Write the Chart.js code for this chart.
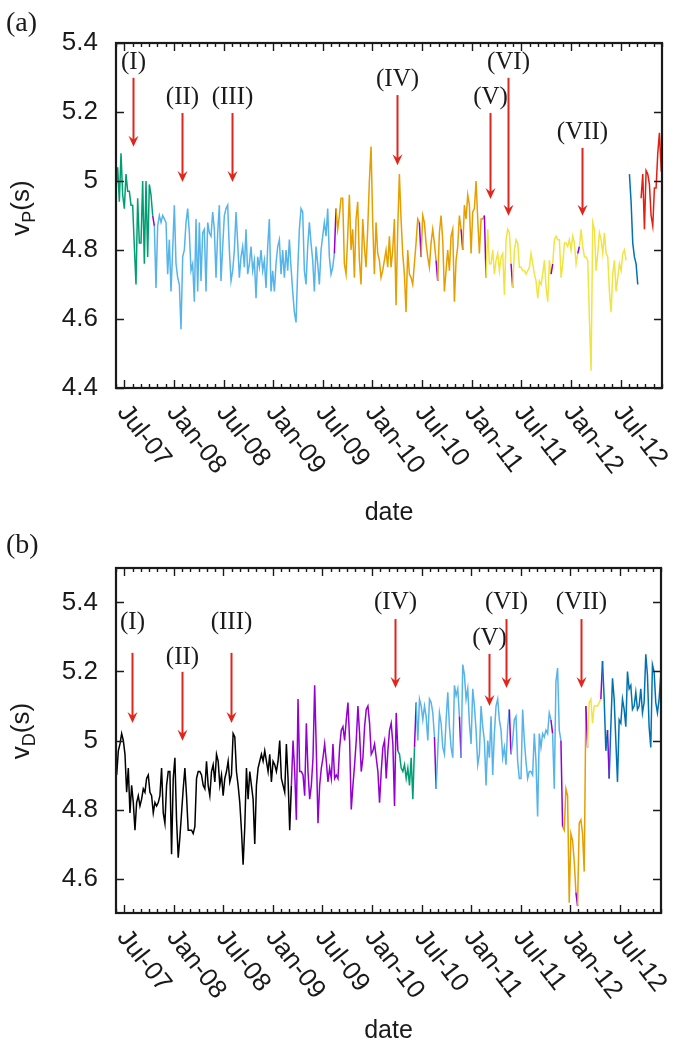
<!DOCTYPE html>
<html>
<head>
<meta charset="utf-8">
<script src="https://cdn.jsdelivr.net/npm/chart.js@4.4.0/dist/chart.umd.min.js"></script>
<style>
html, body { margin: 0; padding: 0; background: #fff; }
canvas { display: block; }
</style>
</head>
<body>
<canvas id="chartA" width="685" height="527"></canvas>
<canvas id="chartB" width="685" height="527"></canvas>
<script>
// months counted from Jan 2007 (Jul-07 = 6), one sample about every 6 days
var STEP = 0.2015;
var startA = 5.0;
var startB = 5.08;

var xTickMonths = [6, 12, 18, 24, 30, 36, 42, 48, 54, 60, 66];
var xTickLabels = ['Jul-07', 'Jan-08', 'Jul-08', 'Jan-09', 'Jul-09', 'Jan-10', 'Jul-10', 'Jan-11', 'Jul-11', 'Jan-12', 'Jul-12'];
var yTicksA = [4.4, 4.6, 4.8, 5.0, 5.2, 5.4];
var yTicksB = [4.6, 4.8, 5.0, 5.2, 5.4];

// panel (a): v_P(s)
var valuesA = [
  4.98, 5.04, 4.94, 5.08, 4.96, 4.92, 5.02, 4.97, 4.97, 4.93, 4.93, 4.81, 4.70, 4.95, 4.82, 4.82, 5.00, 4.76, 5.00, 4.78, 4.99, 4.96, 4.90,
  4.87,
  4.69,
  4.87, 4.90, 4.88, 4.90, 4.89, 4.88, 4.73, 4.83, 4.68, 4.80,
  4.93, 4.76, 4.72, 4.70, 4.57, 4.78, 4.80, 4.88, 4.92, 4.85,
  4.74, 4.76, 4.65, 4.89, 4.68, 4.88, 4.71, 4.85, 4.86, 4.68,
  4.88, 4.85, 4.84, 4.91, 4.86, 4.72, 4.85, 4.93, 4.71, 4.81,
  4.90, 4.92, 4.93, 4.80, 4.71, 4.74, 4.80, 4.91, 4.82, 4.72,
  4.78, 4.81, 4.75, 4.86, 4.73, 4.76, 4.81, 4.74, 4.77, 4.66,
  4.78, 4.75, 4.80, 4.74, 4.77, 4.69, 4.81, 4.89, 4.68, 4.74,
  4.68, 4.76, 4.81, 4.83, 4.73, 4.80, 4.72, 4.80, 4.74, 4.83,
  4.75, 4.68, 4.62, 4.59, 4.74, 4.86, 4.92, 4.91,
  4.74, 4.70, 4.81, 4.88, 4.82, 4.77, 4.68, 4.81, 4.76, 4.70, 4.80, 4.84, 4.88, 4.84, 4.92, 4.78, 4.73, 4.75, 4.79,
  4.92,
  4.86, 4.90, 4.95, 4.95, 4.76, 4.73, 4.84, 4.96, 4.80, 4.86,
  4.72, 4.89, 4.94, 4.77, 4.70, 4.89, 4.81, 4.75, 4.86, 5.00,
  5.10, 4.88, 4.73, 4.88, 4.79, 4.77, 4.72, 4.74, 4.77, 4.80,
  4.75, 4.84, 4.75, 4.80, 4.89, 4.64, 4.86, 5.02, 4.89, 4.79,
  4.73, 4.62, 4.80, 4.73, 4.72, 4.70, 4.76, 4.82, 4.89, 4.88,
  4.78,
  4.90, 4.88, 4.82, 4.78, 4.75, 4.82, 4.86, 4.82, 4.77,
  4.71,
  4.85, 4.90, 4.83, 4.68, 4.74, 4.80, 4.74, 4.84, 4.86, 4.65, 4.77, 4.81, 4.90, 4.86,
  4.80,
  4.93, 4.89, 4.96, 4.93, 4.79, 4.91, 4.92, 5.00, 4.89, 4.79, 4.89, 4.89, 4.90,
  4.72,
  4.86, 4.76, 4.76, 4.80, 4.73, 4.77, 4.79, 4.74, 4.78, 4.79, 4.67, 4.83, 4.86, 4.85, 4.76,
  4.69,
  4.80, 4.83, 4.82, 4.75, 4.75, 4.74, 4.74, 4.73, 4.74, 4.75, 4.79, 4.76, 4.73, 4.71, 4.66, 4.71, 4.70, 4.73, 4.77, 4.69, 4.65, 4.77, 4.73,
  4.76,
  4.83, 4.84, 4.83, 4.83, 4.72, 4.76, 4.82, 4.82, 4.81, 4.83, 4.80, 4.84, 4.82, 4.76, 4.79,
  4.81,
  4.86, 4.81, 4.78, 4.78, 4.77, 4.60, 4.45, 4.88, 4.86, 4.74, 4.79, 4.85, 4.83, 4.79,
  4.85, 4.79, 4.78, 4.68, 4.62, 4.73, 4.77, 4.68, 4.72, 4.76, 4.74, 4.79, 4.80, 4.77,
  null,
  5.02, 4.94, 4.82, 4.78, 4.76, 4.70,
  null,
  4.95, 5.02, 4.86, 5.03, 5.02, 4.99, 4.90, 4.87, 4.98, 4.98, 5.08, 5.14, 5.04, 5.06
];
var runsA = [
  ['g', 23], ['p', 1], ['lb', 108], ['p', 1], ['o', 50], ['p', 1], ['o', 9], ['p', 1], ['o', 14], ['p', 1], ['o', 13], ['p', 1],
  ['y', 15], ['p', 1], ['y', 23], ['p', 1], ['y', 15], ['p', 1], ['y', 28], ['n', 1], ['b', 6], ['n', 1], ['r', 14]
];

// panel (b): v_D(s)
var valuesB = [
  4.90, 4.97, 4.99, 5.02, 5.00, 4.96, 4.85, 4.92, 4.79, 4.87,
  4.82, 4.74, 4.82, 4.84, 4.81, 4.83, 4.86, 4.85, 4.89, 4.90,
  4.85, 4.84, 4.79, 4.82, 4.81, 4.82, 4.84, 4.92, 4.79, 4.76,
  4.87, 4.91, 4.91, 4.67, 4.89, 4.95, 4.77, 4.66, 4.72, 4.79,
  4.86, 4.92, 4.84, 4.74, 4.74, 4.74, 4.73, 4.75, 4.89, 4.91,
  4.91, 4.90, 4.87, 4.86, 4.94, 4.87, 4.84, 4.91, 4.93, 4.88,
  4.96, 4.94, 4.87, 4.90, 4.84, 4.89, 4.91, 4.94, 4.88, 4.90,
  5.02, 5.01, 4.91, 4.87, 4.82, 4.74, 4.64, 4.75, 4.92, 4.83,
  4.91, 4.87, 4.83, 4.70, 4.87, 4.92, 4.94, 4.96, 4.94, 4.97,
  4.94, 4.91, 4.96, 4.88, 4.94, 4.93, 4.91, 4.94, 5.00, 4.89,
  4.87, 4.85, 4.99, 4.89, 4.74, 4.87,
  5.00, 4.91, 4.77, 5.12,
  4.91, 4.91, 4.90, 4.84, 5.05, 4.91, 4.83, 4.87, 4.95, 5.16,
  4.97, 4.76, 4.87, 4.92, 4.95, 4.99, 4.94, 4.88, 4.92, 4.89,
  4.99, 4.89, 4.90, 4.89, 4.98, 5.03, 5.04, 5.00, 5.06, 5.11,
  5.00, 4.80, 4.87, 4.93, 5.00, 5.10, 5.02, 4.91, 4.95, 5.04,
  5.09, 5.10, 5.05, 4.96, 4.97, 4.99, 4.95, 4.91, 4.82, 4.91,
  4.98, 5.00, 4.89, 4.97, 5.03, 5.05, 4.99, 4.81, 5.08, 4.97,
  4.96, 4.92, 4.91, 4.93, 4.89, 4.92, 4.87, 4.95, 4.83, 4.98,
  5.11,
  5.00, 5.12, 5.10, 5.06, 5.10, 5.07, 5.00, 5.12, 5.11, 5.08, 5.01,
  4.86,
  4.97, 5.08, 5.05, 4.98, 4.96, 5.06, 5.14, 5.04, 4.98, 4.95, 5.16, 5.13, 5.15, 5.07,
  4.95,
  5.22, 5.19, 5.12, 5.15, 5.05, 4.99, 5.15, 5.10, 5.03, 4.93, 4.96, 5.10, 5.04, 5.00, 4.87, 5.00, 4.95,
  5.07, 4.90, 5.02, 5.10, 5.12, 5.06, 5.03, 4.95, 4.98, 4.93, 5.04, 5.09,
  4.96,
  5.00, 5.06, 5.07, 4.94, 4.89, 4.89, 5.09, 5.00, 4.94, 4.89, 4.91, 4.91,
  4.90, 5.02, 4.94, 4.78, 5.02, 4.98, 5.02, 5.01, 5.03, 5.02, 5.08, 5.06,
  5.02,
  4.86, 5.17, 5.21, 5.03, 5.00,
  4.75,
  4.74, 4.86, 4.84, 4.53, 4.73, 4.71, 4.65, 4.56,
  4.52,
  4.76, 4.77, 4.73, 4.62, 5.10,
  4.98,
  5.11, 5.12, 5.05, 5.10, 5.10, 5.10, 5.11, 5.12,
  5.23,
  5.12, 4.97, 5.03,
  4.89,
  5.04, 5.18, 5.12, 5.00, 4.88, 5.06, 5.05, 5.12, 5.09, 5.04,
  5.20, 5.15, 5.16, 5.09, 5.10, 5.14, 5.09, 5.10, 5.15, 5.08,
  5.11, 5.25, 5.19, 5.04, 4.98, 5.22, 5.20, 5.11, 5.08, 5.12, 5.19
];
var runsB = [
  ['k', 106], ['p', 64], ['g', 10], ['p', 1], ['lb', 11], ['p', 1], ['lb', 14], ['p', 1], ['lb', 29], ['p', 1], ['lb', 24], ['p', 1],
  ['lb', 5], ['p', 1], ['o', 8], ['p', 1], ['o', 5], ['p', 1], ['y', 8], ['p', 1], ['b', 3], ['p', 1], ['b', 31]
];

// the red arrows and their labels
var arrowNames = ['(I)', '(II)', '(III)', '(IV)', '(V)', '(VI)', '(VII)'];
var arrowMonthsA = [7.05, 12.98, 19.02, 38.97, 50.21, 52.38, 61.33];
var arrowLabelA = [5.345, 5.241, 5.241, 5.293, 5.243, 5.345, 5.142];
var arrowTailA = [5.299, 5.197, 5.197, 5.249, 5.197, 5.299, 5.096];
var arrowTipA = [5.099, 4.997, 4.997, 5.046, 4.948, 4.899, 4.899];
var arrowMonthsB = [6.93, 12.98, 18.90, 38.84, 50.21, 52.26, 61.33];
var arrowLabelB = [5.343, 5.242, 5.343, 5.399, 5.297, 5.399, 5.399];
var arrowTailB = [5.254, 5.199, 5.254, 5.352, 5.251, 5.352, 5.352];
var arrowTipB = [5.051, 4.999, 5.051, 5.152, 5.100, 5.152, 5.152];

var colors = {
  k: '#000000', p: '#9400d3', g: '#009e73', lb: '#56b4e9',
  o: '#e69f00', y: '#f0e442', b: '#0072b2', r: '#e51e10', n: '#000000'
};
var textColor = '#1a1a1a';
var arrowColor = '#e0261c';

function expandRuns(runs) {
  var out = [];
  runs.forEach(function(r) {
    for (var i = 0; i < r[1]; i++) out.push(colors[r[0]]);
  });
  return out;
}

function toPoints(start, values) {
  return values.map(function(v, i) {
    return { x: start + i * STEP, y: v };
  });
}

function drawArrow(ctx, x, yTail, yTip) {
  ctx.strokeStyle = arrowColor;
  ctx.fillStyle = arrowColor;
  ctx.lineWidth = 2;
  ctx.beginPath();
  ctx.moveTo(x, yTail);
  ctx.lineTo(x, yTip - 6);
  ctx.stroke();
  ctx.beginPath();
  ctx.moveTo(x, yTip);
  ctx.lineTo(x - 5, yTip - 11);
  ctx.lineTo(x, yTip - 7);
  ctx.lineTo(x + 5, yTip - 11);
  ctx.closePath();
  ctx.fill();
}

function drawYTitle(ctx, cx, cy, sub) {
  var big = '26px "Liberation Sans", Arial, sans-serif';
  var small = '18px "Liberation Sans", Arial, sans-serif';
  ctx.save();
  ctx.translate(cx, cy);
  ctx.rotate(-Math.PI / 2);
  ctx.fillStyle = textColor;
  ctx.textAlign = 'left';
  ctx.textBaseline = 'alphabetic';
  ctx.font = big;
  var w1 = ctx.measureText('v').width;
  var w3 = ctx.measureText('(s)').width;
  ctx.font = small;
  var w2 = ctx.measureText(sub).width;
  var x = -(w1 + w2 + w3) / 2;
  ctx.font = big;
  ctx.fillText('v', x, 9);
  x += w1;
  ctx.font = small;
  ctx.fillText(sub, x, 15);
  x += w2;
  ctx.font = big;
  ctx.fillText('(s)', x, 9);
  ctx.restore();
}

// frame, ticks, rotated date labels, arrows and titles
var decorPlugin = {
  id: 'decor',
  afterDraw: function(chart, args, opts) {
    var ctx = chart.ctx;
    var a = chart.chartArea;
    var xs = chart.scales.x;
    var ys = chart.scales.y;
    ctx.save();

    ctx.strokeStyle = textColor;
    ctx.lineWidth = 1.4;
    ctx.beginPath();
    for (var m = Math.ceil(xs.min); m <= xs.max; m++) {
      var px = Math.round(xs.getPixelForValue(m)) + 0.5;
      var len = (m % 6 === 0) ? 8 : 4;
      ctx.moveTo(px, a.bottom); ctx.lineTo(px, a.bottom - len);
      ctx.moveTo(px, a.top); ctx.lineTo(px, a.top + len);
    }
    opts.yTicks.forEach(function(v) {
      var py = Math.round(ys.getPixelForValue(v)) + 0.5;
      ctx.moveTo(a.left, py); ctx.lineTo(a.left + 8, py);
      ctx.moveTo(a.right, py); ctx.lineTo(a.right - 8, py);
    });
    ctx.stroke();

    ctx.lineWidth = 2.2;
    ctx.strokeRect(a.left, a.top, a.right - a.left, a.bottom - a.top);

    // date labels, reading down to the right
    ctx.fillStyle = textColor;
    ctx.font = '26px "Liberation Sans", Arial, sans-serif';
    ctx.textAlign = 'left';
    ctx.textBaseline = 'top';
    xTickMonths.forEach(function(m, i) {
      var px = xs.getPixelForValue(m);
      ctx.save();
      ctx.translate(px + 8, a.bottom + 12);
      ctx.rotate(52 * Math.PI / 180);
      ctx.fillText(xTickLabels[i], 0, 0);
      ctx.restore();
    });

    ctx.textAlign = 'center';
    ctx.textBaseline = 'middle';
    ctx.font = '25px "Liberation Sans", Arial, sans-serif';
    ctx.fillText('date', (a.left + a.right) / 2, a.bottom + opts.dateGap);

    drawYTitle(ctx, 20, opts.yTitleY, opts.sub);

    ctx.fillStyle = textColor;
    ctx.textAlign = 'left';
    ctx.textBaseline = 'middle';
    ctx.font = '28px "Liberation Serif", "Times New Roman", serif';
    ctx.fillText(opts.panel, 6, opts.panelY);

    // arrows
    opts.arrowMonths.forEach(function(m, i) {
      var x = Math.round(xs.getPixelForValue(m)) + 0.5;
      drawArrow(ctx, x, ys.getPixelForValue(opts.arrowTail[i]), ys.getPixelForValue(opts.arrowTip[i]));
      ctx.fillStyle = textColor;
      ctx.font = '25px "Liberation Serif", "Times New Roman", serif';
      ctx.textAlign = 'center';
      ctx.textBaseline = 'middle';
      ctx.fillText(arrowNames[i], x, ys.getPixelForValue(opts.arrowLabel[i]));
    });

    ctx.restore();
  }
};

function makeChart(id, p) {
  var segColors = expandRuns(p.runs);
  return new Chart(document.getElementById(id), {
    type: 'line',
    data: {
      datasets: [{
        data: toPoints(p.start, p.values),
        borderWidth: 1.5,
        pointRadius: 0,
        tension: 0,
        spanGaps: false,
        borderColor: segColors[0],
        segment: {
          borderColor: function(c) { return segColors[c.p1DataIndex]; }
        }
      }]
    },
    options: {
      responsive: false,
      animation: false,
      events: [],
      layout: { padding: { top: p.top, right: p.right, left: 0, bottom: 0 } },
      scales: {
        x: {
          type: 'linear',
          min: 5,
          max: 71,
          ticks: { display: false },
          grid: { display: false, drawTicks: false },
          border: { display: false },
          afterFit: function(s) { s.height = p.xHeight; }
        },
        y: {
          min: p.yMin,
          max: p.yMax,
          afterBuildTicks: function(s) {
            s.ticks = p.yTicks.map(function(v) { return { value: v }; });
          },
          ticks: {
            padding: 18,
            color: textColor,
            font: { family: '"Liberation Sans", Arial, sans-serif', size: 26 },
            callback: function(v) { return String(+Number(v).toFixed(1)); }
          },
          grid: { display: false, drawTicks: false },
          border: { display: false },
          afterFit: function(s) { s.width = 116; }
        }
      },
      plugins: {
        legend: { display: false },
        tooltip: { enabled: false },
        decor: {
          yTicks: p.yTicks,
          sub: p.sub,
          panel: p.panel,
          panelY: p.panelY,
          yTitleY: p.yTitleY,
          dateGap: p.dateGap,
          arrowMonths: p.arrowMonths,
          arrowLabel: p.arrowLabel,
          arrowTail: p.arrowTail,
          arrowTip: p.arrowTip
        }
      }
    },
    plugins: [decorPlugin]
  });
}

makeChart('chartA', {
  start: startA, values: valuesA, runs: runsA,
  top: 43, right: 23, xHeight: 139,
  yMin: 4.4, yMax: 5.4, yTicks: yTicksA,
  sub: 'P', panel: '(a)', panelY: 24, yTitleY: 208, dateGap: 125,
  arrowMonths: arrowMonthsA, arrowLabel: arrowLabelA, arrowTail: arrowTailA, arrowTip: arrowTipA
});

makeChart('chartB', {
  start: startB, values: valuesB, runs: runsB,
  top: 41, right: 24, xHeight: 141,
  yMin: 4.5, yMax: 5.5, yTicks: yTicksB,
  sub: 'D', panel: '(b)', panelY: 19, yTitleY: 204, dateGap: 118,
  arrowMonths: arrowMonthsB, arrowLabel: arrowLabelB, arrowTail: arrowTailB, arrowTip: arrowTipB
});
</script>
</body>
</html>
